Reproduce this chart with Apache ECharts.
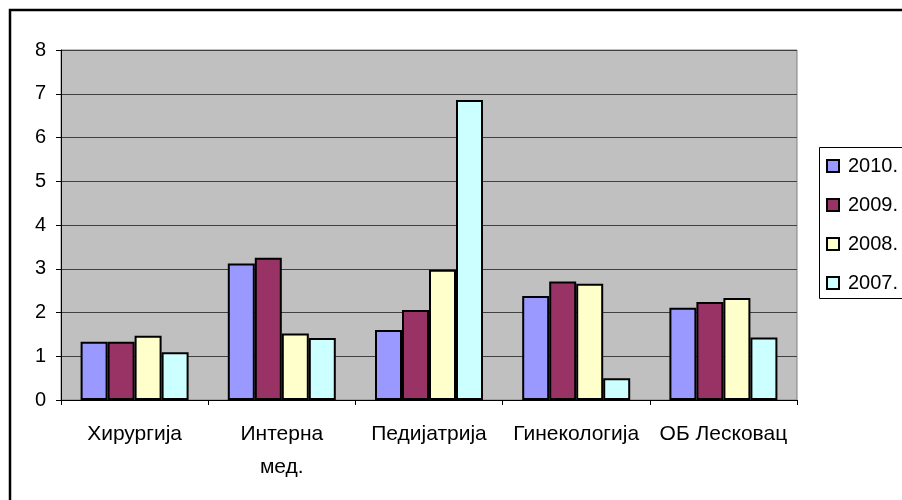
<!DOCTYPE html>
<html>
<head>
<meta charset="utf-8">
<script src="https://cdn.jsdelivr.net/npm/echarts@6/dist/echarts.min.js"></script>
<style>
  html, body { margin: 0; padding: 0; background: #fff; }
  #chart { width: 902px; height: 500px; }
</style>
</head>
<body>
<div id="chart"></div>
<script>
// Departments along the x axis
const categories = ['Хирургија', 'Интерна\nмед.', 'Педијатрија', 'Гинекологија', 'ОБ Лесковац'];

// One series per year
const years = ['2010.', '2009.', '2008.', '2007.'];
const values2010 = [1.33, 3.12, 1.60, 2.38, 2.11];
const values2009 = [1.33, 3.25, 2.06, 2.71, 2.24];
const values2008 = [1.47, 1.52, 2.98, 2.66, 2.33];
const values2007 = [1.09, 1.42, 6.86, 0.50, 1.43];

const yTicks = [0, 1, 2, 3, 4, 5, 6, 7, 8];

const seriesValues = [values2010, values2009, values2008, values2007];
const colors = ['#9999FF', '#993366', '#FFFFCC', '#CCFFFF'];

const FONT = '"Liberation Sans", Arial, sans-serif';

const chart = echarts.init(document.getElementById('chart'), null, { renderer: 'canvas' });

chart.setOption({
  animation: false,
  backgroundColor: '#ffffff',
  textStyle: { fontFamily: FONT },
  grid: {
    left: 61, top: 50, right: 105, bottom: 100,
    show: true,
    backgroundColor: '#C0C0C0',
    borderColor: '#808080',
    borderWidth: 1
  },
  legend: {
    orient: 'vertical',
    left: 826,
    top: 156,
    padding: 0,
    itemGap: 19,
    itemWidth: 12,
    itemHeight: 12,
    icon: 'rect',
    data: years,
    textStyle: {
      fontFamily: FONT, fontSize: 20, color: '#000',
      padding: [0, 0, 0, 4], lineHeight: 20
    }
  },
  xAxis: {
    type: 'category',
    data: categories,
    axisLine: { show: true, lineStyle: { color: '#000', width: 1 } },
    axisTick: { show: true, length: 5, lineStyle: { color: '#000' } },
    axisLabel: {
      fontFamily: FONT, fontSize: 21, color: '#000',
      margin: 18, lineHeight: 33, interval: 0
    },
    splitLine: { show: false }
  },
  yAxis: {
    type: 'value',
    min: yTicks[0],
    max: yTicks[yTicks.length - 1],
    interval: 1,
    axisLine: { show: true, lineStyle: { color: '#000', width: 1 } },
    axisTick: { show: true, length: 5, lineStyle: { color: '#000' } },
    axisLabel: { fontFamily: FONT, fontSize: 20, color: '#000', margin: 15 },
    splitLine: { show: true, lineStyle: { color: '#404040', width: 1 } }
  },
  series: years.map((name, i) => ({
    name: name,
    type: 'bar',
    data: seriesValues[i],
    barWidth: 27,
    barGap: '0%',
    itemStyle: {
      color: colors[i],
      borderColor: '#000',
      borderWidth: 2
    }
  })),
  graphic: [
    {
      // legend frame
      type: 'rect',
      silent: true,
      z: -1,
      shape: { x: 819.5, y: 147.5, width: 120, height: 151 },
      style: { fill: '#fff', stroke: '#000', lineWidth: 1 }
    },
    {
      // outer chart frame
      type: 'rect',
      silent: true,
      z: 100,
      shape: { x: 10, y: 10, width: 1000, height: 1000 },
      style: { fill: null, stroke: '#000', lineWidth: 2.5 }
    }
  ]
});
</script>
</body>
</html>
